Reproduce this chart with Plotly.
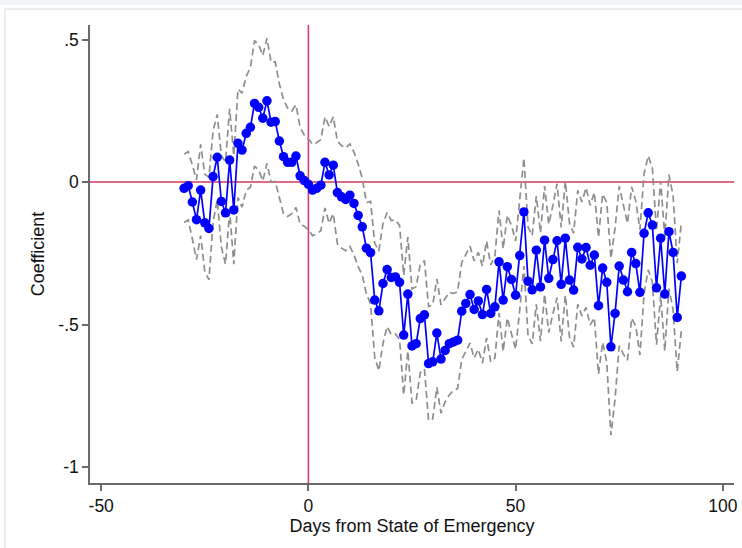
import plotly.graph_objects as go

days = list(range(-30, 91))

coef = [
    # -30 .. -21
    -0.022, -0.013, -0.070, -0.132, -0.028, -0.143, -0.163, 0.019, 0.087, -0.068,
    # -20 .. -11
    -0.108, 0.077, -0.098, 0.136, 0.112, 0.171, 0.192, 0.276, 0.262, 0.224,
    # -10 .. -1
    0.285, 0.210, 0.212, 0.144, 0.089, 0.069, 0.069, 0.091, 0.022, 0.005,
    # 0 .. 9
    -0.008, -0.028, -0.022, -0.011, 0.069, 0.025, 0.059, -0.037, -0.052, -0.061,
    # 10 .. 19
    -0.046, -0.075, -0.117, -0.157, -0.232, -0.248, -0.414, -0.452, -0.356, -0.307,
    # 20 .. 29
    -0.335, -0.333, -0.352, -0.537, -0.393, -0.575, -0.567, -0.479, -0.466, -0.637,
    # 30 .. 39
    -0.631, -0.530, -0.621, -0.591, -0.567, -0.561, -0.555, -0.453, -0.426, -0.395,
    # 40 .. 49
    -0.447, -0.417, -0.465, -0.377, -0.461, -0.438, -0.280, -0.414, -0.297, -0.342,
    # 50 .. 59
    -0.397, -0.258, -0.105, -0.348, -0.378, -0.239, -0.368, -0.204, -0.338, -0.272,
    # 60 .. 69
    -0.206, -0.359, -0.197, -0.344, -0.379, -0.229, -0.270, -0.230, -0.292, -0.256,
    # 70 .. 79
    -0.434, -0.302, -0.352, -0.578, -0.461, -0.295, -0.344, -0.385, -0.247, -0.286,
    # 80 .. 90
    -0.387, -0.180, -0.108, -0.151, -0.371, -0.197, -0.393, -0.174, -0.247, -0.475, -0.330,
]

# half-width of the confidence band
ci_half = [
    0.12, 0.12, 0.13, 0.14, 0.16, 0.17, 0.18, 0.16, 0.15, 0.16,
    0.18, 0.18, 0.19, 0.19, 0.20, 0.20, 0.21, 0.22, 0.22, 0.22,
    0.22, 0.21, 0.21, 0.20, 0.20, 0.19, 0.18, 0.18, 0.17, 0.16,
    0.16, 0.16, 0.16, 0.16, 0.16, 0.17, 0.17, 0.18, 0.18, 0.18,
    0.18, 0.18, 0.18, 0.17, 0.16, 0.18, 0.20, 0.21, 0.21, 0.20,
    0.20, 0.20, 0.20, 0.21, 0.20, 0.20, 0.20, 0.19, 0.19, 0.20,
    0.20, 0.19, 0.19, 0.18, 0.18, 0.17, 0.17, 0.17, 0.17, 0.17,
    0.17, 0.17, 0.17, 0.17, 0.17, 0.18, 0.18, 0.18, 0.18, 0.19,
    0.19, 0.19, 0.19, 0.19, 0.19, 0.19, 0.19, 0.19, 0.19, 0.19,
    0.20, 0.20, 0.20, 0.20, 0.20, 0.20, 0.20, 0.21, 0.21, 0.22,
    0.24, 0.26, 0.28, 0.31, 0.30, 0.28, 0.26, 0.24, 0.23, 0.22,
    0.22, 0.21, 0.20, 0.20, 0.20, 0.20, 0.20, 0.20, 0.20, 0.19, 0.19,
]

upper = [c + h for c, h in zip(coef, ci_half)]
lower = [c - h for c, h in zip(coef, ci_half)]

x_ticks = [-50, 0, 50, 100]
x_ticklabels = ["-50", "0", "50", "100"]
y_ticks = [0.5, 0, -0.5, -1]
y_ticklabels = [".5", "0", "-.5", "-1"]

FONT = "Liberation Sans, Arial, sans-serif"
RED = "#d4385c"
GRAY = "#8e8e8e"

fig = go.Figure()

for band in (upper, lower):
    fig.add_trace(go.Scatter(
        x=days, y=band, mode="lines",
        line=dict(color=GRAY, width=1.7, dash="7px,4px"),
        hoverinfo="skip", showlegend=False,
    ))

fig.add_trace(go.Scatter(
    x=days, y=coef, mode="lines+markers",
    line=dict(color="#0000ff", width=1.7),
    marker=dict(color="#0000ff", size=9.5),
    showlegend=False,
))

# reference lines
fig.add_shape(type="line", xref="paper", yref="y", x0=0, x1=1, y0=0, y1=0,
              line=dict(color=RED, width=1.5), layer="below")
fig.add_shape(type="line", xref="x", yref="paper", x0=0, x1=0, y0=0, y1=1,
              line=dict(color=RED, width=1.5), layer="below")

# faint outer frame of the graph region
L, R, T, B = 90, 8, 25, 65
W, H = 742, 548
pw, ph = W - L - R, H - T - B
def px_x(p):
    return (p - L) / pw
def px_y(p):
    return (H - B - p) / ph
fig.add_shape(type="rect", xref="paper", yref="paper",
              x0=px_x(5), x1=px_x(800), y0=px_y(9), y1=px_y(600),
              line=dict(color="#e3e9ec", width=1.5), layer="below")
fig.add_shape(type="rect", xref="paper", yref="paper",
              x0=px_x(-10), x1=px_x(800), y0=px_y(-10), y1=px_y(5),
              line=dict(width=0), fillcolor="#f1f4f6", layer="below")

fig.update_layout(
    width=W, height=H,
    margin=dict(l=L, r=R, t=T, b=B, autoexpand=False),
    paper_bgcolor="white", plot_bgcolor="white",
    font=dict(family=FONT, size=17, color="#111111"),
    xaxis=dict(
        range=[-52.7, 102.7], tickvals=x_ticks, ticktext=x_ticklabels,
        showgrid=False, zeroline=False, showline=True, linecolor="#6a6a6a",
        linewidth=1.5, ticks="outside", ticklen=6, tickcolor="#6a6a6a",
        tickwidth=1.5, tickfont=dict(size=17.5), automargin=False,
        title=dict(text="Days from State of Emergency", font=dict(size=18), standoff=0),
    ),
    yaxis=dict(
        range=[-1.056, 0.551], tickvals=y_ticks, ticktext=y_ticklabels,
        showgrid=False, zeroline=False, showline=True, linecolor="#6a6a6a",
        linewidth=1.5, ticks="outside", ticklen=6, tickcolor="#6a6a6a",
        tickwidth=1.5, tickfont=dict(size=17.5), automargin=False,
        title=dict(text="Coefficient", font=dict(size=18), standoff=9),
    ),
)

fig.write_html("out.html")
